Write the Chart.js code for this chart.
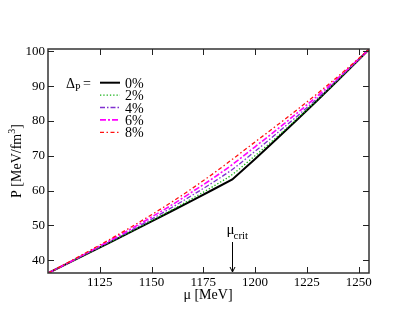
<!DOCTYPE html>
<html>
<head>
<meta charset="utf-8">
<script src="https://cdn.jsdelivr.net/npm/chart.js@4.4.1/dist/chart.umd.min.js"></script>
<style>
  html, body { margin: 0; padding: 0; background: #fff; }
  #wrap { width: 415px; height: 321px; }
</style>
</head>
<body>
<div id="wrap"><canvas id="chart" width="415" height="321"></canvas></div>
<script>
// chemical potential grid [MeV]
const mu = [1100, 1110, 1120, 1130, 1140, 1150, 1160, 1170, 1180, 1189, 1200, 1210, 1220, 1230, 1240, 1250, 1255];

// pressure [MeV/fm^3] for each Delta_P
const p0 = [36.3, 39.23, 42.18, 45.15, 48.15, 51.17, 54.22, 57.3, 60.4, 63.2, 69.1, 74.6, 80.2, 85.9, 91.7, 97.6, 100.6];
const p2 = [36.3, 39.23, 42.2, 45.2, 48.25, 51.35, 54.52, 57.85, 61.3, 64.65, 70.05, 75.15, 80.5, 86.05, 91.75, 97.61, 100.6];
const p4 = [36.3, 39.28, 42.3, 45.4, 48.55, 51.82, 55.22, 58.8, 62.5, 66.1, 71.3, 76.2, 81.25, 86.5, 92.0, 97.68, 100.6];
const p6 = [36.3, 39.33, 42.48, 45.7, 49.0, 52.42, 55.97, 59.8, 63.7, 67.5, 72.6, 77.3, 82.15, 87.15, 92.35, 97.8, 100.6];
const p8 = [36.3, 39.48, 42.73, 46.05, 49.5, 53.07, 56.82, 60.8, 65.0, 69.0, 74.0, 78.5, 83.1, 87.85, 92.8, 97.95, 100.6];

const labels = ["0%", "2%", "4%", "6%", "8%"];
const xTicks = [1125, 1150, 1175, 1200, 1225, 1250];
const yTicks = [40, 50, 60, 70, 80, 90, 100];
const muCrit = 1189;

const serif = '"Liberation Serif", "DejaVu Serif", serif';

const styles = [
  { color: "#000000", width: 2, dash: [] },
  { color: "#10b010", width: 1.3, dash: [1.3, 2] },
  { color: "#8030d0", width: 1.3, dash: [5, 2, 1.5, 2] },
  { color: "#ff00ff", width: 1.6, dash: [6, 2, 2, 2] },
  { color: "#ff1010", width: 1.3, dash: [4, 2.5, 1.5, 2.5] }
];

const series = [p0, p2, p4, p6, p8];

const datasets = series.map((p, i) => ({
  label: labels[i],
  data: mu.map((m, k) => ({ x: m, y: p[k] })),
  borderColor: styles[i].color,
  borderWidth: styles[i].width,
  borderDash: styles[i].dash,
  pointRadius: 0,
  fill: false,
  tension: 0,
  cubicInterpolationMode: i === 0 ? "default" : "monotone",
  order: 5 - i
}));

const decor = {
  id: "decor",
  afterDraw(chart) {
    const ctx = chart.ctx;
    const a = chart.chartArea;
    const xs = chart.scales.x, ys = chart.scales.y;
    ctx.save();
    ctx.setLineDash([]);

    // frame
    ctx.strokeStyle = "#333";
    ctx.lineWidth = 1.5;
    ctx.strokeRect(a.left, a.top, a.right - a.left, a.bottom - a.top);

    // ticks, inward on all sides
    ctx.lineWidth = 1;
    ctx.strokeStyle = "#222";
    const tl = 6;
    xTicks.forEach(v => {
      const px = Math.round(xs.getPixelForValue(v)) + 0.5;
      ctx.beginPath();
      ctx.moveTo(px, a.bottom); ctx.lineTo(px, a.bottom - tl);
      ctx.moveTo(px, a.top); ctx.lineTo(px, a.top + tl);
      ctx.stroke();
    });
    yTicks.forEach(v => {
      const py = Math.round(ys.getPixelForValue(v)) + 0.5;
      ctx.beginPath();
      ctx.moveTo(a.left, py); ctx.lineTo(a.left + tl, py);
      ctx.moveTo(a.right, py); ctx.lineTo(a.right - tl, py);
      ctx.stroke();
    });

    // tick labels
    ctx.fillStyle = "#000";
    ctx.font = "13px " + serif;
    ctx.textAlign = "center";
    ctx.textBaseline = "top";
    xTicks.forEach(v => ctx.fillText(String(v), xs.getPixelForValue(v), a.bottom + 3));
    ctx.textAlign = "right";
    ctx.textBaseline = "middle";
    yTicks.forEach(v => ctx.fillText(String(v), a.left - 3, ys.getPixelForValue(v)));

    // x title
    ctx.textAlign = "center";
    ctx.textBaseline = "alphabetic";
    ctx.font = "14px " + serif;
    ctx.fillText("\u03bc [MeV]", 208, 299);

    // y title: P [MeV/fm^3]
    ctx.save();
    ctx.translate(21, (a.top + a.bottom) / 2);
    ctx.rotate(-Math.PI / 2);
    ctx.textAlign = "left";
    const t1 = "P [MeV/fm", t2 = "3", t3 = "]";
    ctx.font = "14px " + serif;
    const w1 = ctx.measureText(t1).width;
    const w3 = ctx.measureText(t3).width;
    ctx.font = "10px " + serif;
    const w2 = ctx.measureText(t2).width;
    const x0 = -(w1 + w2 + w3) / 2;
    ctx.font = "14px " + serif;
    ctx.fillText(t1, x0, 0);
    ctx.font = "10px " + serif;
    ctx.fillText(t2, x0 + w1, -6);
    ctx.font = "14px " + serif;
    ctx.fillText(t3, x0 + w1 + w2, 0);
    ctx.restore();

    // legend
    ctx.textAlign = "left";
    ctx.textBaseline = "alphabetic";
    ctx.font = "14px " + serif;
    ctx.fillText("\u0394", 66, 88);
    ctx.font = "10px " + serif;
    ctx.fillText("P", 75, 91);
    ctx.font = "14px " + serif;
    ctx.fillText("=", 83, 88);
    labels.forEach((lab, i) => {
      const y = 82.7 + i * 12.4;
      ctx.strokeStyle = styles[i].color;
      ctx.lineWidth = styles[i].width;
      ctx.setLineDash(styles[i].dash);
      ctx.beginPath();
      ctx.moveTo(100, y); ctx.lineTo(120, y);
      ctx.stroke();
      ctx.setLineDash([]);
      ctx.fillStyle = "#000";
      ctx.font = "14px " + serif;
      ctx.fillText(lab, 125, y + 5);
    });

    // mu_crit arrow
    const cx = Math.round(xs.getPixelForValue(muCrit)) + 0.5;
    ctx.strokeStyle = "#000";
    ctx.lineWidth = 1;
    ctx.beginPath();
    ctx.moveTo(cx, 242); ctx.lineTo(cx, a.bottom - 1);
    ctx.stroke();
    ctx.beginPath();
    ctx.moveTo(cx - 2.5, a.bottom - 6); ctx.lineTo(cx, a.bottom - 1); ctx.lineTo(cx + 2.5, a.bottom - 6);
    ctx.stroke();
    ctx.fillStyle = "#000";
    ctx.font = "15px " + serif;
    ctx.fillText("\u03bc", cx - 6, 234);
    ctx.font = "11px " + serif;
    ctx.fillText("crit", cx + 1, 239);

    ctx.restore();
  }
};

new Chart(document.getElementById("chart"), {
  type: "line",
  data: { datasets },
  options: {
    responsive: false,
    animation: false,
    layout: { padding: { left: 48, right: 46, top: 49, bottom: 48 } },
    scales: {
      x: { type: "linear", min: 1100, max: 1255, display: false },
      y: { type: "linear", min: 36.34, max: 100.69, display: false }
    },
    plugins: {
      legend: { display: false },
      tooltip: { enabled: false }
    }
  },
  plugins: [decor]
});
</script>
</body>
</html>
